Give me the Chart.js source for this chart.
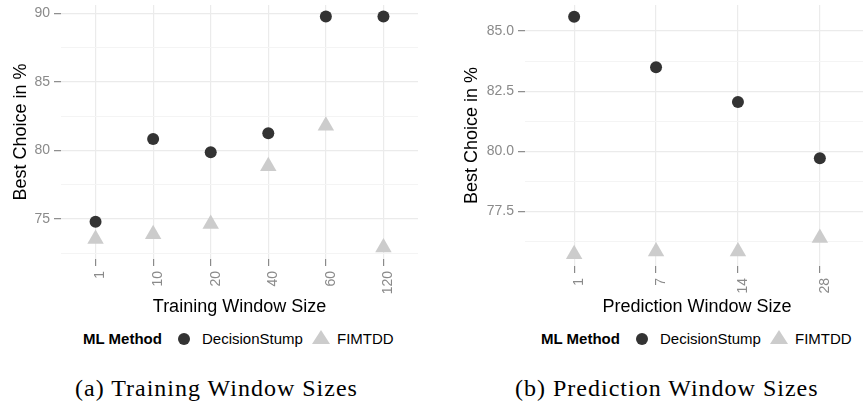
<!DOCTYPE html>
<html>
<head>
<meta charset="utf-8">
<script src="https://cdn.jsdelivr.net/npm/chart.js@4.4.0/dist/chart.umd.min.js"></script>
<style>
  body { margin: 0; width: 863px; height: 408px; overflow: hidden; background: #fff; position: relative;
         font-family: 'Liberation Sans', Arial, sans-serif; }
  canvas { position: absolute; top: 0; }
  #chart-train { left: 0; }
  #chart-pred { left: 440px; }
  .lg { position: absolute; top: 330px; font-size: 15px; line-height: 18px; color: #000; white-space: nowrap; }
  .lg.title { font-weight: bold; }
  .dot { position: absolute; top: 333px; width: 12px; height: 12px; border-radius: 50%; background: #333333; }
  .tri { position: absolute; top: 330px; width: 0; height: 0; border-left: 9px solid transparent;
         border-right: 9px solid transparent; border-bottom: 14px solid #cccccc; }
  .caption { position: absolute; top: 374px; font-family: 'Liberation Serif', 'Times New Roman', serif;
             font-size: 24px; line-height: 28px; letter-spacing: 1px; color: #000; white-space: nowrap; }
</style>
</head>
<body>
<canvas id="chart-train" width="430" height="318"></canvas>
<canvas id="chart-pred" width="430" height="318"></canvas>

<script>
// (a) training window sizes
var trainSizes = ['1', '10', '20', '40', '60', '120'];
var trainDecisionStump = [74.8, 80.85, 79.88, 81.26, 89.78, 89.78];
var trainFimtdd = [73.54, 73.9, 74.64, 78.85, 81.82, 72.93];
var trainYMajor = [75, 80, 85, 90];
var trainYMinor = [72.5, 77.5, 82.5, 87.5];

// (b) prediction window sizes
var predSizes = ['1', '7', '14', '28'];
var predDecisionStump = [85.59, 83.49, 82.05, 79.72];
var predFimtdd = [75.73, 75.84, 75.84, 76.4];
var predYMajor = [77.5, 80, 82.5, 85];
var predYMinor = [76.25, 78.75, 81.25, 83.75];

var methods = ['DecisionStump', 'FIMTDD'];

var GRID = '#ebebeb';
var GRID_MINOR = '#f4f4f4';
var TICK = '#8a8a8a';

function toPoints(values) {
    return values.map((v, i) => ({ x: i, y: v }));
}

function drawWindowChart(id, opts) {
    var majors = opts.yMajor;
    var allY = majors.concat(opts.yMinor).sort((a, b) => a - b);

    var data = {
        datasets: [{
            label: methods[0],
            data: toPoints(opts.ds),
            pointStyle: 'circle',
            pointRadius: 6,
            pointHoverRadius: 6,
            backgroundColor: '#333333',
            borderWidth: 0,
            order: 1
        }, {
            label: methods[1],
            data: toPoints(opts.fim),
            pointStyle: 'triangle',
            pointRadius: 9.5,
            pointHoverRadius: 9.5,
            backgroundColor: '#cccccc',
            borderWidth: 0,
            order: 2
        }]
    };

    var options = {
        responsive: false,
        animation: false,
        layout: { autoPadding: false, padding: { top: 5, right: opts.padRight, left: 0, bottom: 0 } },
        plugins: { legend: { display: false }, tooltip: { enabled: false } },
        scales: {
            x: {
                type: 'linear',
                min: -0.6,
                max: opts.cats.length - 0.4,
                afterBuildTicks: s => { s.ticks = opts.cats.map((c, i) => ({ value: i })); },
                afterFit: s => {
                    s.height = opts.xHeight;
                    s.paddingLeft = 0;
                    s.paddingRight = 0;
                },
                border: { display: false },
                grid: { color: GRID, lineWidth: 1.2, tickLength: 7, tickColor: TICK, tickWidth: 1.2 },
                ticks: {
                    autoSkip: false, minRotation: 90, maxRotation: 90, padding: 5, labelOffset: 5,
                    color: TICK, font: { family: 'Liberation Sans', size: 14 },
                    callback: v => opts.cats[v]
                },
                title: {
                    display: true, text: opts.xTitle, color: '#000',
                    font: { family: 'Liberation Sans', size: 18 }, padding: 0
                }
            },
            y: {
                min: opts.yRange[0],
                max: opts.yRange[1],
                afterBuildTicks: s => { s.ticks = allY.map(v => ({ value: v })); },
                afterFit: s => {
                    s.width = opts.yWidth;
                    s.paddingTop = 0;
                    s.paddingBottom = 0;
                },
                border: { display: false },
                grid: {
                    color: c => majors.includes(c.tick.value) ? GRID : GRID_MINOR,
                    lineWidth: c => majors.includes(c.tick.value) ? 1.3 : 1,
                    tickLength: 7, tickWidth: 1.2,
                    tickColor: c => majors.includes(c.tick.value) ? TICK : 'rgba(0,0,0,0)'
                },
                ticks: {
                    padding: 4, color: TICK, font: { family: 'Liberation Sans', size: 14 },
                    callback: v => majors.includes(v) ? opts.fmt(v) : ''
                },
                title: {
                    display: true, text: 'Best Choice in %', color: '#000',
                    font: { family: 'Liberation Sans', size: 18 }, padding: { top: opts.yTitlePad }
                }
            }
        }
    };

    new Chart(document.getElementById(id), { type: 'scatter', data: data, options: options });
}

drawWindowChart('chart-train', {
    cats: trainSizes, ds: trainDecisionStump, fim: trainFimtdd,
    yMajor: trainYMajor, yMinor: trainYMinor, yRange: [72.09, 90.62],
    fmt: v => String(v), xTitle: 'Training Window Size',
    yWidth: 61, xHeight: 59, padRight: 12, yTitlePad: 10.5
});

drawWindowChart('chart-pred', {
    cats: predSizes, ds: predDecisionStump, fim: predFimtdd,
    yMajor: predYMajor, yMinor: predYMinor, yRange: [75.24, 86.08],
    fmt: v => v.toFixed(1), xTitle: 'Prediction Window Size',
    yWidth: 85, xHeight: 52, padRight: 1, yTitlePad: 21
});

// legends and captions below each panel
function addLegend(dx) {
    var parts = [
        ['lg title', 83, 'ML Method'],
        ['dot', 178, null],
        ['lg', 202, methods[0]],
        ['tri', 312, null],
        ['lg', 337, methods[1]]
    ];
    parts.forEach(p => {
        var el = document.createElement('div');
        el.className = p[0];
        el.style.left = (p[1] + dx) + 'px';
        if (p[2]) el.textContent = p[2];
        document.body.appendChild(el);
    });
}
addLegend(0);
addLegend(458);

function addCaption(x, text) {
    var el = document.createElement('div');
    el.className = 'caption';
    el.style.left = x + 'px';
    el.textContent = text;
    document.body.appendChild(el);
}
addCaption(75, '(a) Training Window Sizes');
addCaption(515, '(b) Prediction Window Sizes');
</script>
</body>
</html>
